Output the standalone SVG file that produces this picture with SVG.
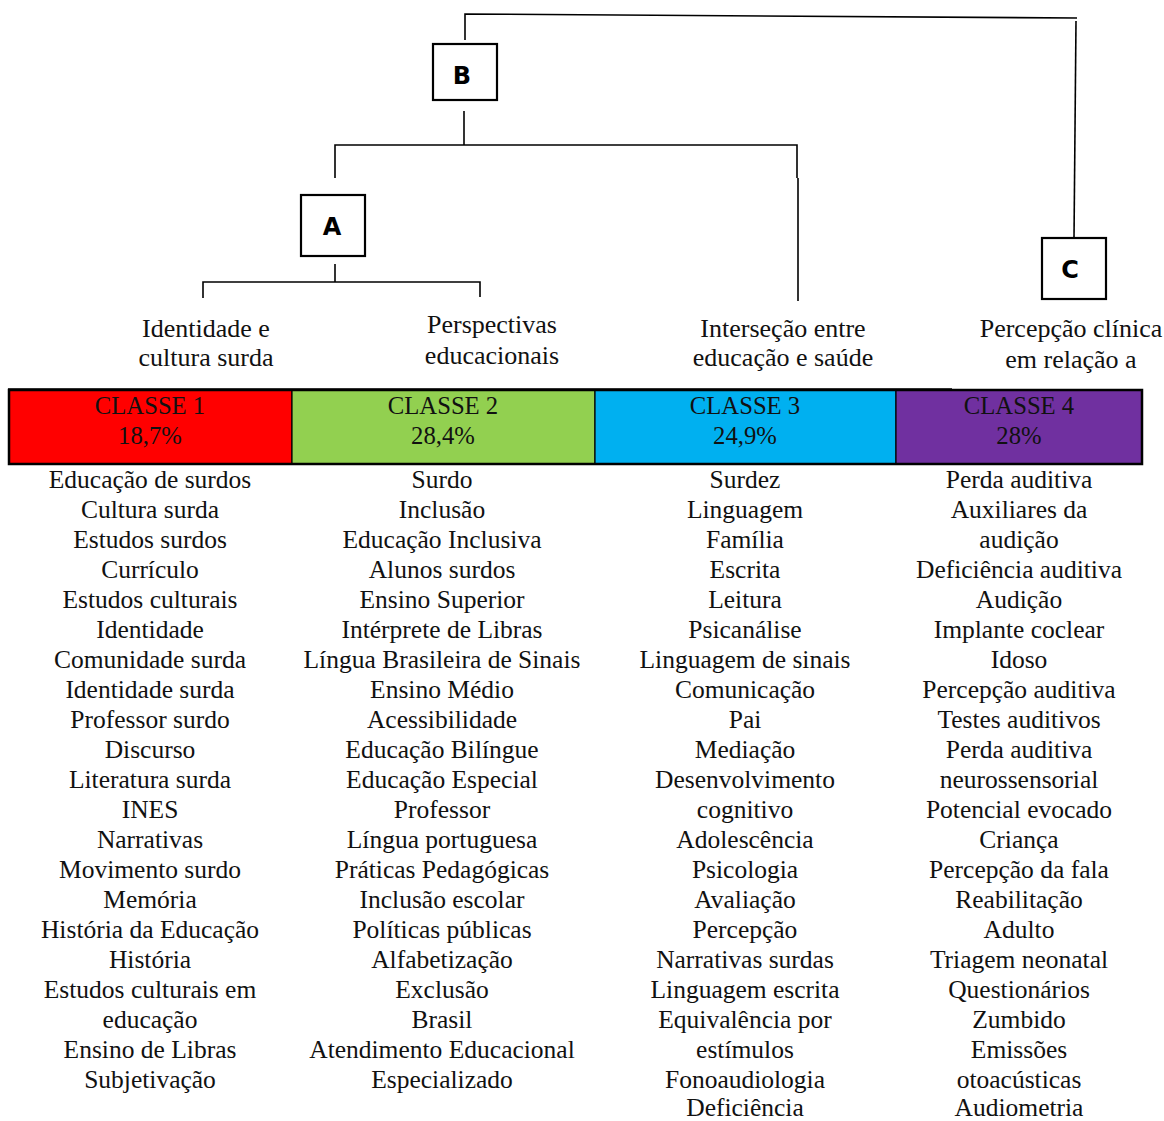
<svg xmlns="http://www.w3.org/2000/svg" width="1164" height="1121" viewBox="0 0 1164 1121">
<style>
.ln{stroke:#000;stroke-width:1.6;fill:none}
.box{fill:#fff;stroke:#000;stroke-width:2.2}
.bl{font-family:"DejaVu Sans",sans-serif;font-weight:bold;font-size:24px;text-anchor:middle;fill:#000}
.t{font-family:"Liberation Serif",serif;font-size:25.5px;text-anchor:middle;fill:#111}
.h{font-family:"Liberation Serif",serif;font-size:26px;text-anchor:middle;fill:#111}
.c{font-family:"Liberation Serif",serif;font-size:24.7px;text-anchor:middle;fill:#111}
.cell{stroke:#000;stroke-width:1.2}
</style>
<rect width="1164" height="1121" fill="#fff"/>
<g id="connectors">
<polyline class="ln" points="465,40 465,14 1077,18"/>
<line class="ln" x1="1076" y1="21" x2="1074" y2="238"/>
<polyline class="ln" points="335,178 335,145 797,145 797,178"/>
<line class="ln" x1="464" y1="111" x2="464" y2="145"/>
<line class="ln" x1="798" y1="178" x2="798" y2="301"/>
<polyline class="ln" points="203,298 203,282 480,282 480,297"/>
<line class="ln" x1="335" y1="264" x2="335" y2="282"/>
</g>
<g id="node-B"><rect class="box" x="433" y="44" width="64" height="56"/><text class="bl" x="462" y="84">B</text></g>
<g id="node-A"><rect class="box" x="301" y="195" width="64" height="61"/><text class="bl" x="332" y="235">A</text></g>
<g id="node-C"><rect class="box" x="1042" y="238" width="64" height="61"/><text class="bl" x="1070" y="278">C</text></g>
<g id="labels">
<text class="h" x="206" y="337">Identidade e</text>
<text class="h" x="206" y="366">cultura surda</text>
<text class="h" x="492" y="333">Perspectivas</text>
<text class="h" x="492" y="364">educacionais</text>
<text class="h" x="783" y="337">Interseção entre</text>
<text class="h" x="783" y="366">educação e saúde</text>
<text class="h" x="1071" y="337">Percepção clínica</text>
<text class="h" x="1071" y="368">em relação a</text>
</g>
<g id="classes">
<rect class="cell" x="9" y="390" width="283" height="74" fill="#FF0000"/>
<rect class="cell" x="292" y="390" width="303" height="74" fill="#92D050"/>
<rect class="cell" x="595" y="390" width="301" height="74" fill="#00B0F0"/>
<rect class="cell" x="896" y="390" width="246" height="74" fill="#7030A0"/>
<line x1="8" y1="389.5" x2="952" y2="389.5" stroke="#000" stroke-width="2.5"/>
<rect x="9" y="390" width="1133" height="74" fill="none" stroke="#000" stroke-width="2.5"/>
<text class="c" x="150" y="414">CLASSE 1</text><text class="c" x="150" y="444">18,7%</text>
<text class="c" x="443" y="414">CLASSE 2</text><text class="c" x="443" y="444">28,4%</text>
<text class="c" x="745" y="414">CLASSE 3</text><text class="c" x="745" y="444">24,9%</text>
<text class="c" x="1019" y="414">CLASSE 4</text><text class="c" x="1019" y="444">28%</text>
</g>
<g id="list1">
<text class="t" x="150" y="488">Educação de surdos</text>
<text class="t" x="150" y="518">Cultura surda</text>
<text class="t" x="150" y="548">Estudos surdos</text>
<text class="t" x="150" y="578">Currículo</text>
<text class="t" x="150" y="608">Estudos culturais</text>
<text class="t" x="150" y="638">Identidade</text>
<text class="t" x="150" y="668">Comunidade surda</text>
<text class="t" x="150" y="698">Identidade surda</text>
<text class="t" x="150" y="728">Professor surdo</text>
<text class="t" x="150" y="758">Discurso</text>
<text class="t" x="150" y="788">Literatura surda</text>
<text class="t" x="150" y="818">INES</text>
<text class="t" x="150" y="848">Narrativas</text>
<text class="t" x="150" y="878">Movimento surdo</text>
<text class="t" x="150" y="908">Memória</text>
<text class="t" x="150" y="938">História da Educação</text>
<text class="t" x="150" y="968">História</text>
<text class="t" x="150" y="998">Estudos culturais em</text>
<text class="t" x="150" y="1028">educação</text>
<text class="t" x="150" y="1058">Ensino de Libras</text>
<text class="t" x="150" y="1088">Subjetivação</text>
</g>
<g id="list2">
<text class="t" x="442" y="488">Surdo</text>
<text class="t" x="442" y="518">Inclusão</text>
<text class="t" x="442" y="548">Educação Inclusiva</text>
<text class="t" x="442" y="578">Alunos surdos</text>
<text class="t" x="442" y="608">Ensino Superior</text>
<text class="t" x="442" y="638">Intérprete de Libras</text>
<text class="t" x="442" y="668">Língua Brasileira de Sinais</text>
<text class="t" x="442" y="698">Ensino Médio</text>
<text class="t" x="442" y="728">Acessibilidade</text>
<text class="t" x="442" y="758">Educação Bilíngue</text>
<text class="t" x="442" y="788">Educação Especial</text>
<text class="t" x="442" y="818">Professor</text>
<text class="t" x="442" y="848">Língua portuguesa</text>
<text class="t" x="442" y="878">Práticas Pedagógicas</text>
<text class="t" x="442" y="908">Inclusão escolar</text>
<text class="t" x="442" y="938">Políticas públicas</text>
<text class="t" x="442" y="968">Alfabetização</text>
<text class="t" x="442" y="998">Exclusão</text>
<text class="t" x="442" y="1028">Brasil</text>
<text class="t" x="442" y="1058">Atendimento Educacional</text>
<text class="t" x="442" y="1088">Especializado</text>
</g>
<g id="list3">
<text class="t" x="745" y="488">Surdez</text>
<text class="t" x="745" y="518">Linguagem</text>
<text class="t" x="745" y="548">Família</text>
<text class="t" x="745" y="578">Escrita</text>
<text class="t" x="745" y="608">Leitura</text>
<text class="t" x="745" y="638">Psicanálise</text>
<text class="t" x="745" y="668">Linguagem de sinais</text>
<text class="t" x="745" y="698">Comunicação</text>
<text class="t" x="745" y="728">Pai</text>
<text class="t" x="745" y="758">Mediação</text>
<text class="t" x="745" y="788">Desenvolvimento</text>
<text class="t" x="745" y="818">cognitivo</text>
<text class="t" x="745" y="848">Adolescência</text>
<text class="t" x="745" y="878">Psicologia</text>
<text class="t" x="745" y="908">Avaliação</text>
<text class="t" x="745" y="938">Percepção</text>
<text class="t" x="745" y="968">Narrativas surdas</text>
<text class="t" x="745" y="998">Linguagem escrita</text>
<text class="t" x="745" y="1028">Equivalência por</text>
<text class="t" x="745" y="1058">estímulos</text>
<text class="t" x="745" y="1088">Fonoaudiologia</text>
<text class="t" x="745" y="1116">Deficiência</text>
</g>
<g id="list4">
<text class="t" x="1019" y="488">Perda auditiva</text>
<text class="t" x="1019" y="518">Auxiliares da</text>
<text class="t" x="1019" y="548">audição</text>
<text class="t" x="1019" y="578">Deficiência auditiva</text>
<text class="t" x="1019" y="608">Audição</text>
<text class="t" x="1019" y="638">Implante coclear</text>
<text class="t" x="1019" y="668">Idoso</text>
<text class="t" x="1019" y="698">Percepção auditiva</text>
<text class="t" x="1019" y="728">Testes auditivos</text>
<text class="t" x="1019" y="758">Perda auditiva</text>
<text class="t" x="1019" y="788">neurossensorial</text>
<text class="t" x="1019" y="818">Potencial evocado</text>
<text class="t" x="1019" y="848">Criança</text>
<text class="t" x="1019" y="878">Percepção da fala</text>
<text class="t" x="1019" y="908">Reabilitação</text>
<text class="t" x="1019" y="938">Adulto</text>
<text class="t" x="1019" y="968">Triagem neonatal</text>
<text class="t" x="1019" y="998">Questionários</text>
<text class="t" x="1019" y="1028">Zumbido</text>
<text class="t" x="1019" y="1058">Emissões</text>
<text class="t" x="1019" y="1088">otoacústicas</text>
<text class="t" x="1019" y="1116">Audiometria</text>
</g>
</svg>
